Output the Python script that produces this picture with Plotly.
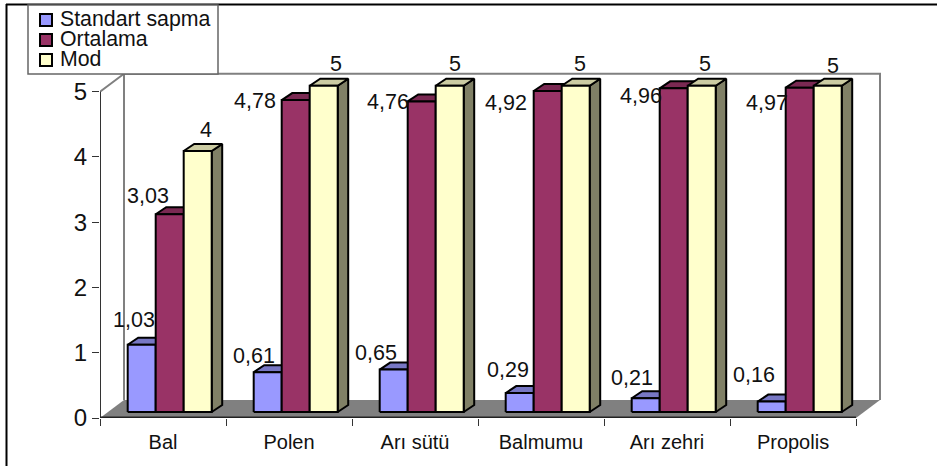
import plotly.graph_objects as go

categories = ["Bal", "Polen", "Arı sütü", "Balmumu", "Arı zehri", "Propolis"]
series_names = ["Standart sapma", "Ortalama", "Mod"]
std_dev = [1.03, 0.61, 0.65, 0.29, 0.21, 0.16]
mean = [3.03, 4.78, 4.76, 4.92, 4.96, 4.97]
mode = [4, 5, 5, 5, 5, 5]
y_ticks = [0, 1, 2, 3, 4, 5]

W, H = 937, 466
PX_X = 126.0      # pixels per category
PX_Y = 65.2       # pixels per unit
L, B = 100, 417.7
R_PX, T_PX = 905, 40
xr = (R_PX - L) / PX_X
yr = (B - T_PX) / PX_Y
dx = lambda p: p / PX_X
dy = lambda p: p / PX_Y

faces = {
    0: ("#9999FF", "#7777C4", "#5B5B99"),
    1: ("#993366", "#7A2952", "#5C1F3D"),
    2: ("#FFFFCC", "#CCCCA3", "#808066"),
}
GRAY = "#808080"
values = [std_dev, mean, mode]

fig = go.Figure()

def poly(xs, ys, fill, line=None, width=0):
    fig.add_trace(go.Scatter(
        x=xs + xs[:1], y=ys + ys[:1], mode="lines", fill="toself", fillcolor=fill,
        line=dict(color=line or fill, width=width), hoverinfo="skip", showlegend=False))

def seg(xs, ys, color, width):
    fig.add_trace(go.Scatter(x=xs, y=ys, mode="lines", line=dict(color=color, width=width),
                             hoverinfo="skip", showlegend=False))

n = len(categories)
wx, wy = dx(24), dy(18)
# floor and walls
poly([0, n, n + wx, wx], [0, 0, wy, wy], GRAY)
seg([0, wx, wx], [5, 5 + wy, wy], GRAY, 2)
seg([wx, n + wx, n + wx], [5 + wy, 5 + wy, wy], GRAY, 2)
# axis lines
seg([0, 0], [0, 5], "#333333", 2)
seg([0, n], [0, 0], "#222222", 3)

bar_w = dx(28)
start = dx(27.7)
base = dy(6)
bx, by = dx(10.5), dy(7)
annotations = []

# pixel offsets of the value labels from the top centre of each bar
label_shift = {
    0: [(-8, 25), (-14, 16), (-18, 17), (-12, 23), (-14, 20), (-18, 27)],
    1: [(-22, 18), (-41, -1), (-34, -1), (-42, -12), (-33, -8), (-33, -15)],
    2: [(8, 21), (12, 22), (5, 22), (4, 22), (3, 22), (5, 20)],
}

for c in range(n):
    for s in range(3):
        v = values[s][c]
        x0 = c + start + s * bar_w
        x1 = x0 + bar_w
        top = base + v
        front, topc, side = faces[s]
        poly([x1, x1 + bx, x1 + bx, x1], [base, base + by, top + by, top], side, "black", 2)
        poly([x0, x1, x1 + bx, x0 + bx], [top, top, top + by, top + by], topc, "black", 2)
        poly([x0, x1, x1, x0], [base, base, top, top], front, "black", 2)

for s in range(3):
    for c in range(n):
        v = values[s][c]
        xc = c + start + (s + 0.5) * bar_w
        text = str(v) if isinstance(v, int) else f"{v:.2f}".replace(".", ",")
        sx, sy = label_shift[s][c]
        annotations.append(dict(x=xc, y=base + v, xref="x", yref="y", text=text, showarrow=False,
                                xshift=sx, yshift=sy, font=dict(size=21.5, color="#111111"),
                                xanchor="center", yanchor="middle"))

def px(x):
    return (x - L) / (R_PX - L)
def py(y):
    return (B - y) / (B - T_PX)

shapes = [
    # outer frame
    dict(type="line", xref="paper", yref="paper", x0=px(6.5), x1=px(6.5), y0=py(4), y1=py(466), line=dict(color="black", width=2)),
    dict(type="line", xref="paper", yref="paper", x0=px(6), x1=px(937), y0=py(4.5), y1=py(4.5), line=dict(color="black", width=2)),
    # legend box
    dict(type="rect", xref="paper", yref="paper", x0=px(28), x1=px(218), y0=py(5), y1=py(74),
         line=dict(color="#666666", width=1.5), fillcolor="white", layer="above"),
]
for i, name in enumerate(series_names):
    yc = 20 + i * 20
    shapes.append(dict(type="rect", xref="paper", yref="paper", x0=px(40), x1=px(52), y0=py(yc - 6), y1=py(yc + 6),
                       line=dict(color="black", width=2), fillcolor=faces[i][0], layer="above"))
    annotations.append(dict(x=px(58), y=py(yc - 1), xref="paper", yref="paper", text=name, showarrow=False,
                            xanchor="left", yanchor="middle", font=dict(size=21.3, color="#111111")))

fig.update_layout(
    width=W, height=H, showlegend=False, paper_bgcolor="white", plot_bgcolor="white",
    margin=dict(l=L, r=W - R_PX, t=T_PX, b=H - B, autoexpand=False),
    font=dict(family="Liberation Sans, Arial, sans-serif", color="#111111"),
    shapes=shapes, annotations=annotations,
    xaxis=dict(range=[0, xr], tickmode="array", tickvals=[c + 0.5 for c in range(n)], ticktext=categories,
               ticks="", showline=False, showgrid=False, zeroline=False, tickfont=dict(size=20),
               ticklabelstandoff=10,
               minor=dict(tickmode="array", tickvals=list(range(n + 1)), ticks="outside", ticklen=7,
                          tickcolor="#333333", tickwidth=1, showgrid=False)),
    yaxis=dict(range=[0, yr], tickmode="array", tickvals=y_ticks, ticks="outside", ticklen=7, tickwidth=1,
               tickcolor="#333333", showline=False, showgrid=False, zeroline=False, tickfont=dict(size=24)),
)

fig.write_html("out.html", post_script="document.body.style.margin='0';", config={"displayModeBar": False})
